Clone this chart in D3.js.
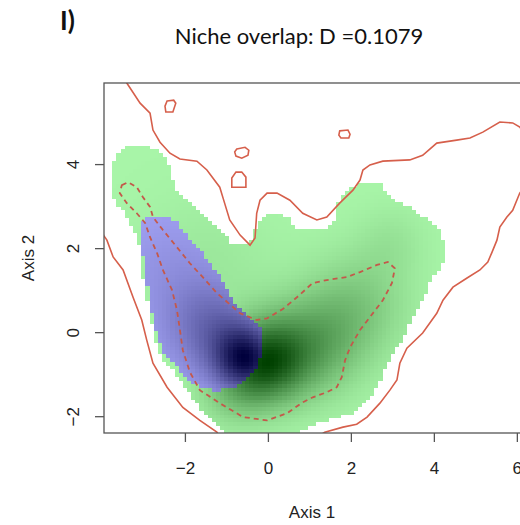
<!DOCTYPE html>
<html>
<head>
<meta charset="utf-8">
<script src="https://cdn.jsdelivr.net/npm/d3@7"></script>
<style>
  body { margin: 0; background: #fff; }
  svg { display: block; font-family: "Liberation Sans", Arial, sans-serif; }
</style>
</head>
<body>
<div id="chart"></div>
<script>
// everything below is in axis units

// outline of the first species' niche (green raster)
const greenOutline = [
    [-3.73, 3.93], [-3.69, 4.17], [-3.52, 4.36], [-3.33, 4.43], [-2.84, 4.40], [-2.60, 4.26],
    [-2.43, 4.05], [-2.36, 3.86], [-2.29, 3.55], [-2.12, 3.26], [-1.88, 3.07], [-1.57, 2.83],
    [-1.23, 2.50], [-0.99, 2.26], [-0.87, 2.07], [-0.51, 2.07], [-0.36, 2.26], [-0.27, 2.50],
    [-0.12, 2.74], [0.05, 2.86], [0.29, 2.86], [0.53, 2.67], [0.70, 2.43], [1.42, 2.43],
    [1.61, 2.62], [1.73, 3.21], [1.98, 3.43], [2.14, 3.50], [2.70, 3.50], [2.87, 3.26],
    [3.11, 3.10], [3.42, 2.95], [3.73, 2.74], [4.07, 2.50], [4.22, 2.19], [4.22, 1.64],
    [3.98, 1.31], [3.73, 0.83], [3.49, 0.36], [3.25, -0.12], [2.94, -0.60], [2.77, -0.98],
    [2.63, -1.31], [2.39, -1.62], [1.98, -1.93], [1.57, -2.05], [1.18, -2.17], [0.77, -2.33],
    [0.70, -2.57], [-0.84, -2.57], [-1.23, -2.19], [-1.52, -1.93], [-1.64, -1.79], [-1.81, -1.55],
    [-2.05, -1.21], [-2.29, -0.90], [-2.53, -0.67], [-2.65, -0.36], [-2.77, -0.02], [-2.84, 0.52],
    [-2.96, 1.00], [-3.08, 1.95], [-3.13, 2.26], [-3.33, 2.55], [-3.49, 2.86], [-3.73, 3.21]
];

// outline of the second species' niche (blue raster)
const blueOutline = [
    [-3.08, 2.36], [-3.01, 2.67], [-2.77, 2.74], [-2.43, 2.71], [-2.19, 2.60], [-1.95, 2.26],
    [-1.64, 1.95], [-1.40, 1.64], [-1.16, 1.31], [-0.99, 1.00], [-0.67, 0.48], [-0.43, 0.36],
    [-0.27, 0.21], [-0.14, -0.02], [-0.14, -0.43], [-0.27, -0.86], [-0.51, -1.10], [-0.84, -1.33],
    [-1.23, -1.38], [-1.64, -1.31], [-1.88, -1.14], [-2.19, -0.83], [-2.53, -0.43], [-2.77, 0.21],
    [-2.84, 0.76], [-2.92, 1.24], [-3.01, 1.88]
];

// density modes of each niche: [x, y, weight, spread]
const greenModes = [
    [-0.1, -0.7, 1.0, 0.7],
    [1.1, -0.3, 0.5, 0.85],
    [2.2, 0.7, 0.3, 0.9],
    [-0.9, -1.4, 0.25, 0.6],
    [3.0, 2.2, 0.12, 0.6],
    [-1.5, 1.5, 0.12, 1.2]
];
const blueModes = [
    [-0.5, -0.65, 1.0, 0.55],
    [-1.3, 0.1, 0.45, 0.8],
    [-2.3, 1.5, 0.15, 1.0]
];

// 100% environment envelope (solid), two visible pieces
const envelopeLeft = [
    [-4.05, 2.48], [-3.95, 2.29], [-3.88, 2.19], [-3.73, 1.79], [-3.49, 1.48], [-3.25, 0.83],
    [-3.04, 0.29], [-2.92, -0.19], [-2.77, -0.74], [-2.43, -1.31], [-2.05, -1.79], [-1.64, -2.10],
    [-1.23, -2.38], [-1.11, -2.57]
];
const envelopeRight = [
    [-3.45, 6.05], [-3.40, 5.93], [-3.08, 5.45], [-2.84, 5.21], [-2.77, 4.81], [-2.60, 4.52],
    [-2.36, 4.26], [-2.12, 4.12], [-1.71, 4.07], [-1.47, 3.86], [-1.16, 3.45], [-1.08, 3.19],
    [-0.92, 2.67], [-0.67, 2.31], [-0.43, 2.07], [-0.31, 2.24], [-0.27, 2.83], [-0.19, 3.14],
    [-0.02, 3.31], [0.22, 3.31], [0.53, 3.14], [0.84, 2.83], [1.18, 2.67], [1.42, 2.74],
    [1.73, 3.07], [2.05, 3.38], [2.22, 3.62], [2.29, 3.86], [2.46, 3.98], [2.77, 4.07],
    [3.42, 4.10], [3.73, 4.21], [4.07, 4.50], [4.55, 4.57], [4.87, 4.62], [5.18, 4.76],
    [5.59, 5.00], [5.90, 4.98], [6.07, 4.88], [6.35, 4.50], [6.40, 4.00], [6.31, 3.62],
    [6.07, 3.31], [5.90, 2.90], [5.76, 2.74], [5.59, 2.50], [5.52, 2.19], [5.40, 1.90],
    [5.30, 1.67], [5.11, 1.48], [4.80, 1.29], [4.46, 1.07], [4.22, 0.76], [4.07, 0.45],
    [3.73, -0.02], [3.35, -0.38], [3.18, -0.74], [3.11, -1.14], [2.94, -1.38], [2.70, -1.69],
    [2.39, -2.02], [2.14, -2.19], [1.81, -2.26], [1.37, -2.38], [1.01, -2.62]
];
const envelopeIslands = [
    [[-2.43, 5.50], [-2.27, 5.52], [-2.22, 5.45], [-2.29, 5.24], [-2.46, 5.24], [-2.48, 5.38]],
    [[-0.75, 4.36], [-0.55, 4.40], [-0.46, 4.33], [-0.48, 4.21], [-0.63, 4.14], [-0.77, 4.19], [-0.80, 4.29]],
    [[-0.77, 3.81], [-0.63, 3.81], [-0.53, 3.69], [-0.53, 3.45], [-0.87, 3.45], [-0.87, 3.67]],
    [[1.73, 4.79], [1.93, 4.81], [1.98, 4.71], [1.95, 4.62], [1.76, 4.62], [1.71, 4.69]]
];

// 50% environment contour (dashed)
const envelopeHalf = [
    [-3.52, 3.50], [-3.37, 3.57], [-3.16, 3.45], [-3.01, 3.21], [-2.84, 2.98], [-2.77, 2.74],
    [-2.53, 2.43], [-2.19, 2.02], [-1.88, 1.64], [-1.57, 1.31], [-1.23, 0.93], [-0.67, 0.45],
    [-0.27, 0.29], [-0.02, 0.33], [0.36, 0.55], [0.70, 0.83], [1.08, 1.17], [1.42, 1.24],
    [1.90, 1.31], [2.22, 1.43], [2.63, 1.60], [2.89, 1.67], [3.06, 1.52], [2.99, 1.17],
    [2.77, 0.76], [2.46, 0.36], [2.22, 0.05], [1.98, -0.36], [1.86, -0.67], [1.78, -1.07],
    [1.66, -1.31], [1.42, -1.43], [1.08, -1.55], [0.84, -1.67], [0.46, -1.93], [-0.02, -2.10],
    [-0.60, -2.02], [-1.16, -1.69], [-1.64, -1.38], [-1.88, -0.95], [-2.05, -0.43], [-2.12, 0.05],
    [-2.19, 0.52], [-2.31, 1.00], [-2.53, 1.48], [-2.67, 1.88], [-2.84, 2.26], [-2.96, 2.60],
    [-3.16, 2.83], [-3.40, 3.07], [-3.57, 3.31]
];

const xTicks = [-2, 0, 2, 4, 6];
const yTicks = [-2, 0, 2, 4];
const xTitle = "Axis 1";
const yTitle = "Axis 2";
const chartTitle = "Niche overlap: D =0.1079";
const panelTag = "I)";

function buildChart() {
    const width = 520, height = 525;
    const svg = d3.select("#chart").append("svg")
        .attr("width", width)
        .attr("height", height);

    const x = d3.scaleLinear().domain([-3.95, 6.1]).range([104, 521]);
    const y = d3.scaleLinear().domain([-2.4, 5.93]).range([433, 83]);

    svg.append("clipPath").attr("id", "plot-area")
        .append("rect")
        .attr("x", x.range()[0]).attr("y", y.range()[1])
        .attr("width", x.range()[1] - x.range()[0])
        .attr("height", y.range()[0] - y.range()[1]);

    const plot = svg.append("g").attr("clip-path", "url(#plot-area)");

    // raster grid, same cell size for both species
    const dx = 0.1, dy = 0.09;
    const xs = d3.range(x.domain()[0] + dx / 2, x.domain()[1], dx);
    const ys = d3.range(y.domain()[0] + dy / 2, y.domain()[1], dy);

    function density(modes, px, py) {
        return d3.sum(modes, m => {
            const d2 = ((px - m[0]) ** 2 + (py - m[1]) ** 2) / (2 * m[3] * m[3]);
            return m[2] * Math.exp(-d2);
        });
    }

    function rasterCells(outline, modes) {
        const cells = [];
        xs.forEach(cx => ys.forEach(cy => {
            if (d3.polygonContains(outline, [cx, cy])) {
                cells.push({ cx, cy, z: density(modes, cx, cy) });
            }
        }));
        const zmax = d3.max(cells, c => c.z);
        cells.forEach(c => c.t = c.z / zmax);
        return cells;
    }

    function drawRaster(cells, light, dark, gamma) {
        const color = d3.interpolateRgb(light, dark);
        plot.append("g")
            .attr("shape-rendering", "crispEdges")
            .selectAll("rect")
            .data(cells)
            .enter().append("rect")
            .attr("x", d => x(d.cx - dx / 2))
            .attr("y", d => y(d.cy + dy / 2))
            .attr("width", x(dx) - x(0) + 0.6)
            .attr("height", y(0) - y(dy) + 0.6)
            .attr("fill", d => color(Math.pow(d.t, gamma)));
    }

    drawRaster(rasterCells(greenOutline, greenModes), "#a8f5a8", "#004000", 1.1);
    drawRaster(rasterCells(blueOutline, blueModes), "#a4a4f6", "#00003c", 1.1);

    const line = d3.line().x(d => x(d[0])).y(d => y(d[1]));

    [envelopeLeft, envelopeRight].forEach(pts => {
        plot.append("path")
            .attr("d", line(pts))
            .attr("fill", "none")
            .attr("stroke", "#d65f4b")
            .attr("stroke-width", 1.6);
    });

    envelopeIslands.forEach(pts => {
        plot.append("path")
            .attr("d", line(pts) + "Z")
            .attr("fill", "none")
            .attr("stroke", "#d65f4b")
            .attr("stroke-width", 1.6);
    });

    plot.append("path")
        .attr("d", line(envelopeHalf) + "Z")
        .attr("fill", "none")
        .attr("stroke", "#c4584a")
        .attr("stroke-width", 1.8)
        .attr("stroke-dasharray", "5,4");

    // box and axes, R style
    svg.append("rect")
        .attr("x", x.range()[0]).attr("y", y.range()[1])
        .attr("width", x.range()[1] - x.range()[0])
        .attr("height", y.range()[0] - y.range()[1])
        .attr("fill", "none")
        .attr("stroke", "#555")
        .attr("stroke-width", 1.3);

    const xAxis = svg.append("g")
        .attr("transform", `translate(0,${y.range()[0]})`)
        .call(d3.axisBottom(x).tickValues(xTicks).tickSize(9).tickSizeOuter(0).tickPadding(20)
            .tickFormat(d3.format("d")));

    const yAxis = svg.append("g")
        .attr("transform", `translate(${x.range()[0]},0)`)
        .call(d3.axisLeft(y).tickValues(yTicks).tickSize(9).tickSizeOuter(0)
            .tickFormat(d3.format("d")));

    [xAxis, yAxis].forEach(g => {
        g.select(".domain").remove();
        g.selectAll("line").attr("stroke", "#555").attr("stroke-width", 1.3);
        g.selectAll("text")
            .attr("fill", "#222")
            .style("font-size", "17px")
            .style("font-family", "Liberation Sans, Arial, sans-serif");
    });

    yAxis.selectAll("text")
        .attr("transform", "rotate(-90)")
        .attr("x", 0)
        .attr("y", -25)
        .attr("dy", 0)
        .style("text-anchor", "middle");

    svg.append("text")
        .attr("x", 312).attr("y", 518)
        .attr("text-anchor", "middle")
        .style("font-size", "17px")
        .attr("fill", "#222")
        .text(xTitle);

    svg.append("text")
        .attr("transform", "translate(34,258) rotate(-90)")
        .attr("text-anchor", "middle")
        .style("font-size", "17px")
        .attr("fill", "#222")
        .text(yTitle);

    svg.append("text")
        .attr("x", 299).attr("y", 44)
        .attr("text-anchor", "middle")
        .style("font-family", "Lato, 'Open Sans', sans-serif")
        .style("font-size", "22px")
        .attr("fill", "#111")
        .text(chartTitle);

    svg.append("text")
        .attr("x", 60).attr("y", 30)
        .style("font-family", "Lato, 'Open Sans', sans-serif")
        .style("font-weight", "bold")
        .style("font-size", "26px")
        .attr("fill", "#111")
        .text(panelTag);
}

window.addEventListener("load", () => {
    buildChart();
});
</script>
</body>
</html>
